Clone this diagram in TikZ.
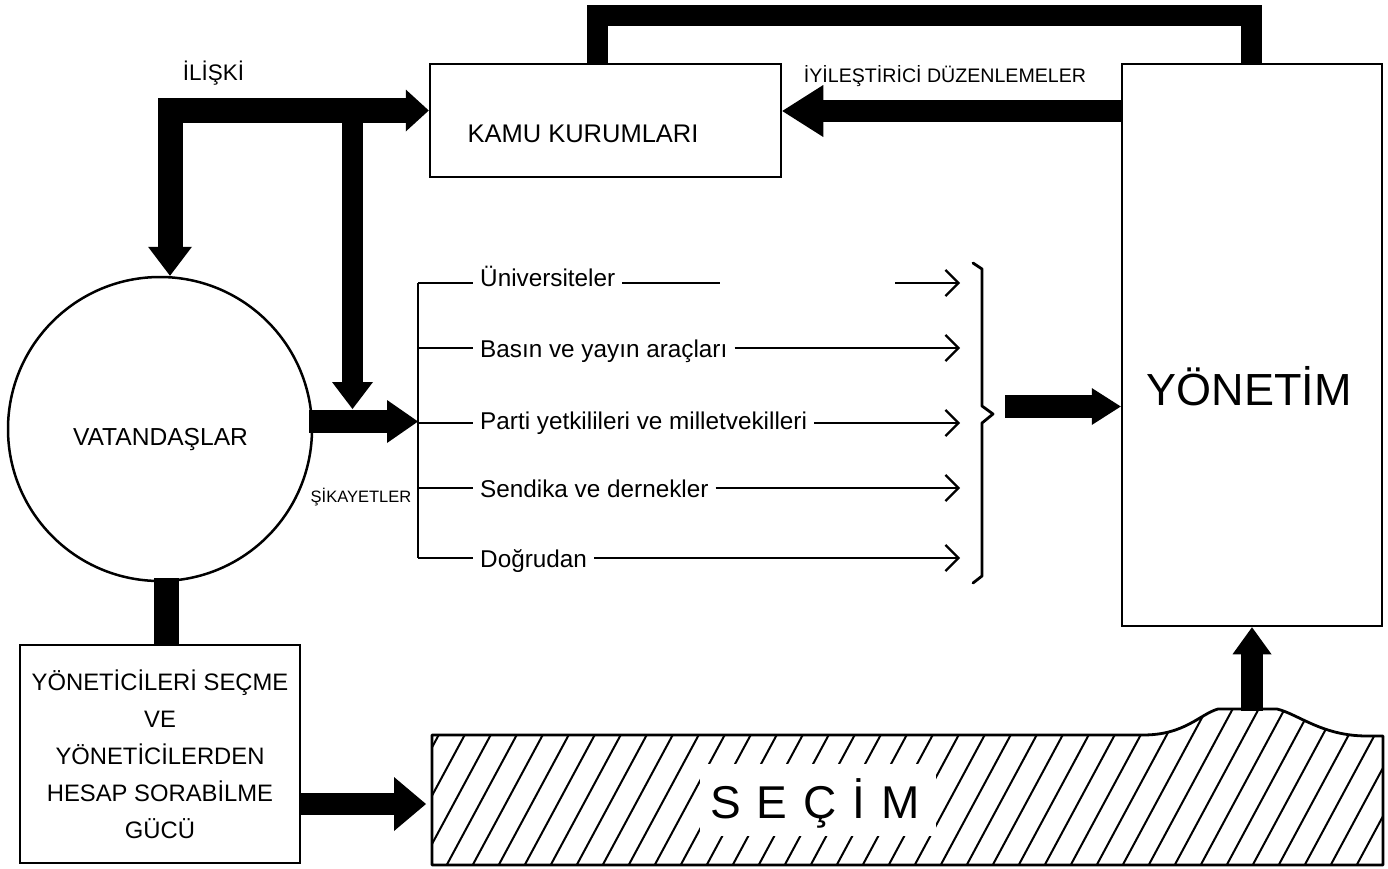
\documentclass[tikz,border=0pt]{standalone}
\usepackage{fontspec}
\setmainfont{Liberation Sans}
\usetikzlibrary{arrows.meta,calc}
\newcommand\fsz[1]{\fontsize{#1}{#1}\selectfont}
\begin{document}
\begin{tikzpicture}[x=1pt,y=-1pt,
  box/.style={draw,line width=2.5pt,inner sep=0pt},
  lbl/.style={inner sep=0pt,anchor=base},
  bar/.style={line width=#1,line join=miter,miter limit=10},
  item/.style={inner xsep=7pt,inner ysep=0pt,anchor=base west,font=\fsz{24.3}},
  thinline/.style={line width=2.3pt},
  barb/.style={-{Straight Barb[length=13pt,width=26pt]}},
]
\useasboundingbox (0,0) rectangle (1388,868);

% boxes and circle
\node[box,minimum width=351pt,minimum height=113pt] (kamu) at (605.5,120.5) {};
\node[lbl,font=\fsz{25.5}] (kamut) at (583,142) {KAMU KURUMLARI};
\node[box,minimum width=260pt,minimum height=562pt] (yon) at (1252,345) {};
\node[lbl,font=\fsz{45}] (yont) at (1249,405) {YÖNETİM};
\node[draw,circle,line width=2.5pt,minimum size=304pt,inner sep=0pt] (vat) at (160,429) {};
\node[lbl,font=\fsz{24.6}] (vatt) at (160.5,445) {VATANDAŞLAR};
\node[box,minimum width=280pt,minimum height=218pt,align=center,font=\fontsize{23.8}{37}\selectfont] (blbox) at (160,754) {YÖNETİCİLERİ SEÇME\\VE\\YÖNETİCİLERDEN\\HESAP SORABİLME\\GÜCÜ};

% labels
\node[lbl,font=\fsz{22.5}] (iliski) at (213.5,80) {İLİŞKİ};
\node[lbl,font=\fsz{19.6}] (iyil) at (945,82) {İYİLEŞTİRİCİ DÜZENLEMELER};
\node[lbl,font=\fsz{16.5}] (sik) at (361,502) {ŞİKAYETLER};

% list items
\node[item] (uni) at (473,286) {Üniversiteler};
\node[item] (basin) at (473,357) {Basın ve yayın araçları};
\node[item] (parti) at (473,429) {Parti yetkilileri ve milletvekilleri};
\node[item] (send) at (473,497) {Sendika ve dernekler};
\node[item] (dog) at (473,567) {Doğrudan};

\coordinate (e1) at (960,283);
\coordinate (e2) at (960,348);
\coordinate (e3) at (960,423);
\coordinate (e4) at (960,488);
\coordinate (e5) at (960,558);
\coordinate (g1) at (720,283);
\coordinate (g2) at (895,283);
\coordinate (bt) at (418,283);
\coordinate (bb) at (418,558);

% bracket tree
\draw[thinline] (bt) -- (bb);
\draw[thinline] (bt |- e1) -- (uni.west |- e1);
\draw[thinline] (bt |- e2) -- (basin.west |- e2);
\draw[thinline] (bt |- e3) -- (parti.west |- e3);
\draw[thinline] (bt |- e4) -- (send.west |- e4);
\draw[thinline] (bt |- e5) -- (dog.west |- e5);

% trailing arrows
\draw[thinline] (uni.east |- e1) -- (g1);
\draw[thinline,barb] (g2) -- (e1);
\draw[thinline,barb] (basin.east |- e2) -- (e2);
\draw[thinline,barb] (parti.east |- e3) -- (e3);
\draw[thinline,barb] (send.east |- e4) -- (e4);
\draw[thinline,barb] (dog.east |- e5) -- (e5);

% brace
\draw[line width=2.8pt,line join=round,line cap=round] (973,263) -- (982,269) -- (982,406) -- (993,414) -- (982,423) -- (982,576) -- (973,583);

% thick arrows
\coordinate (c1) at (170,110.5);
\draw[bar=25pt,{Triangle[length=29pt,width=44pt,line width=0pt]}-{Triangle[length=23pt,width=42pt,line width=0pt]}] (vat.north -| c1) -- (c1) -- (kamu.west |- c1);

\coordinate (c2) at (352.5,110.5);
\coordinate (c3) at (352.5,409);
\draw[bar=21pt,-{Triangle[length=27pt,width=41pt,line width=0pt]}] (c2) -- (c3);

\coordinate (c4) at (418,421.5);
\draw[bar=23pt,-{Triangle[length=31pt,width=43pt,line width=0pt]}] ($(vat.east |- c4)+(-4,0)$) -- (c4);

\draw[bar=25pt] ($(vat.south)+(6.5,-4)$) -- ($(blbox.north)+(6.5,0)$);

\coordinate (t1) at (597,15);
\coordinate (t2) at (1251,15);
\draw[bar=21pt] (kamu.north -| t1) -- (t1) -- (t2) -- (yon.north -| t2);

\coordinate (c5) at (1000,111);
\draw[bar=22pt,-{Triangle[length=41pt,width=52pt,line width=0pt]}] (yon.west |- c5) -- (kamu.east |- c5);

\coordinate (c6) at (1005,406.5);
\draw[bar=23pt,-{Triangle[length=29pt,width=37pt,line width=0pt]}] (c6) -- (yon.west |- c6);

\coordinate (c7) at (426,804);
\draw[bar=22pt,-{Triangle[length=32pt,width=54pt,line width=0pt]}] (blbox.east |- c7) -- (c7);

\coordinate (c8) at (1252,711);
\draw[bar=22pt,-{Triangle[length=27pt,width=39pt,line width=0pt]}] (c8) -- (yon.south -| c8);

% SECIM hatched region
\begin{scope}
\clip (432,735) -- (1143,735) .. controls (1185,735) and (1200,714) .. (1218,709) -- (1277,709) .. controls (1298,714) and (1322,736) .. (1367,736) -- (1383,736) -- (1383,865) -- (432,865) -- cycle;
\foreach \i in {0,...,41} \draw[line width=2pt] ({340+26*\i},870) -- ({431.5+26*\i},700);
\end{scope}
\draw[line width=2.8pt,line join=round] (432,735) -- (1143,735) .. controls (1185,735) and (1200,714) .. (1218,709) -- (1277,709) .. controls (1298,714) and (1322,736) .. (1367,736) -- (1383,736) -- (1383,865) -- (432,865) -- cycle;
\node[fill=white,inner sep=0pt,minimum width=236pt,minimum height=72pt] (secbg) at (818,800) {};
\node[lbl,font=\fsz{46}] (sec) at (815,818) {S\hspace{16pt}E\hspace{16pt}Ç\hspace{16pt}İ\hspace{16pt}M};
\end{tikzpicture}
\end{document}
